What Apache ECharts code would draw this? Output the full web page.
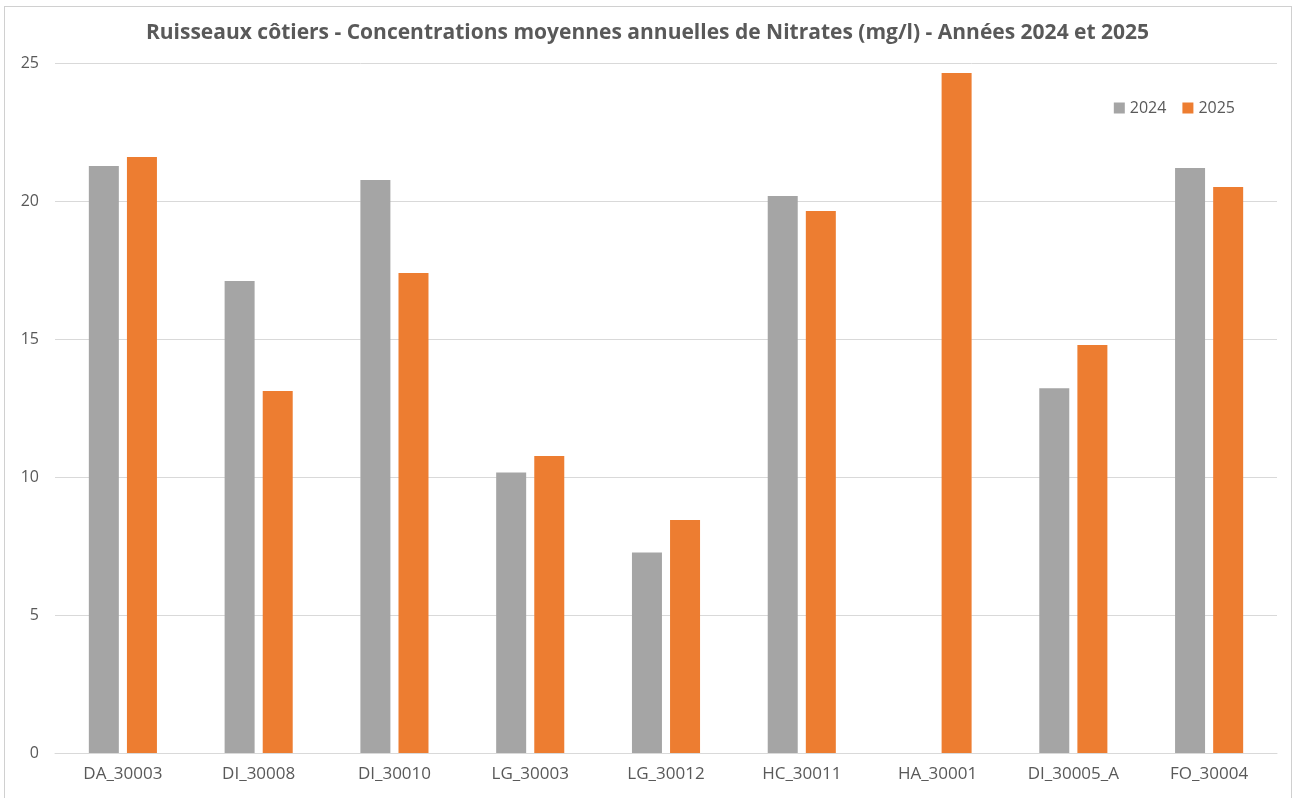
<!DOCTYPE html>
<html>
<head>
<meta charset="utf-8">
<script src="https://cdn.jsdelivr.net/npm/echarts@6/dist/echarts.min.js"></script>
<style>
  html, body { margin: 0; padding: 0; background: #fff; }
  #frame { position: absolute; left: 4px; top: 6px; width: 1288px; height: 800px; border: 1px solid #d0d0d0; box-sizing: border-box; }
  #main { width: 1295px; height: 798px; }
</style>
</head>
<body>
<div id="frame"></div>
<div id="main"></div>
<script>
// stations
const stations = ['DA_30003', 'DI_30008', 'DI_30010', 'LG_30003', 'LG_30012', 'HC_30011', 'HA_30001', 'DI_30005_A', 'FO_30004']
// moyennes annuelles nitrates (mg/l)
const values2024 = [21.27, 17.10, 20.76, 10.16, 7.26, 20.18, null, 13.22, 21.20]
const values2025 = [21.59, 13.12, 17.39, 10.76, 8.44, 19.64, 24.64, 14.78, 20.51]
const yTicks = [0, 5, 10, 15, 20, 25]

const txt = '#595959'
const font = 'Open Sans'

const myChart = echarts.init(document.getElementById('main'))
const option = {
  animation: false,
  title: {
    text: 'Ruisseaux côtiers - Concentrations moyennes annuelles de Nitrates (mg/l) - Années 2024 et 2025',
    left: 'center',
    top: 18,
    textStyle: { color: txt, fontSize: 21, fontWeight: 'bold', fontFamily: font }
  },
  legend: {
    right: 55,
    top: 95,
    itemWidth: 11,
    itemHeight: 11,
    itemGap: 16,
    icon: 'rect',
    textStyle: { color: txt, fontSize: 16, fontFamily: font }
  },
  grid: { left: 55, right: 18, top: 63, bottom: 45, containLabel: false },
  xAxis: {
    type: 'category',
    data: stations,
    axisLine: { lineStyle: { color: '#d9d9d9' } },
    axisTick: { show: false },
    axisLabel: { color: txt, fontSize: 17, fontFamily: font, margin: 13 }
  },
  yAxis: {
    type: 'value',
    min: yTicks[0],
    max: yTicks[yTicks.length - 1],
    interval: 5,
    axisLine: { show: false },
    axisTick: { show: false },
    splitLine: { lineStyle: { color: '#d9d9d9' } },
    axisLabel: { color: txt, fontSize: 16, fontFamily: font, margin: 16 }
  },
  series: [
    {
      name: '2024',
      type: 'bar',
      data: values2024,
      barWidth: 30,
      barGap: '27%',
      itemStyle: { color: '#a5a5a5' }
    },
    {
      name: '2025',
      type: 'bar',
      data: values2025,
      barWidth: 30,
      itemStyle: { color: '#ed7d31' }
    }
  ]
}
myChart.setOption(option)
</script>
</body>
</html>
